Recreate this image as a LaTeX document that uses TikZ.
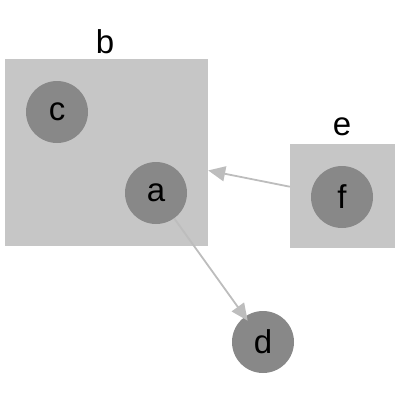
\documentclass[tikz,border=0pt]{standalone}
\usepackage{fontspec}
\setmainfont{Liberation Sans}
\usetikzlibrary{arrows.meta}
\definecolor{clusterfill}{HTML}{C6C6C6}
\definecolor{nodefill}{HTML}{888888}
\definecolor{edgecol}{HTML}{BDBDBD}
\tikzset{
  cluster/.style={fill=clusterfill, draw=none, inner sep=0pt},
  vertex/.style={circle, fill=nodefill, draw=none, minimum size=62pt, inner sep=0pt, font=\fontsize{33}{33}\selectfont},
  clabel/.style={font=\fontsize{33}{33}\selectfont, inner sep=0pt},
  edge/.style={draw=edgecol, line width=1.8pt, -{Triangle[length=17pt, width=15pt]}}
}
\begin{document}
\begin{tikzpicture}[x=1pt, y=-1pt]
  \useasboundingbox (0,0) rectangle (400,400);
  % clusters
  \node[cluster, minimum width=203pt, minimum height=187pt] (b) at (106.5,152.5) {};
  \node[clabel] (bl) at (105,42) {b};
  \node[cluster, minimum width=105pt, minimum height=104pt] (e) at (342.5,196) {};
  \node[clabel] (el) at (342,127) {e};
  % nodes
  \node[vertex] (c) at (57,112) {c};
  \node[vertex] (a) at (156,193) {a};
  \node[vertex] (f) at (342,197) {f};
  \node[vertex] (d) at (263,342) {d};
  % edges
  \draw[edge] (e.170.3) -- (b.-10.9);
  \draw[edge, shorten >=-5pt] (a) -- (d);
\end{tikzpicture}
\end{document}
